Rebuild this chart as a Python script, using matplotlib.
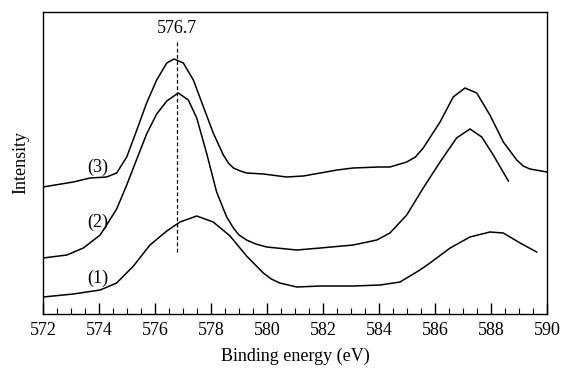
import numpy as np
import matplotlib.pyplot as plt

plt.rcParams['font.family'] = ['Liberation Serif', 'DejaVu Serif']

# curve (3)
e3 = [572.0, 573.08, 573.68, 574.27, 574.63, 574.99, 575.35, 575.70, 576.06, 576.42,
      576.68, 577.01, 577.37, 577.73, 578.08, 578.44, 578.62, 578.8, 579.05, 579.27,
      579.87, 580.7, 581.3, 581.9, 582.5, 583.08, 584.0, 584.39, 584.99, 585.3,
      585.58, 586.18, 586.65, 587.07, 587.49, 587.96, 588.44, 588.92, 589.15, 589.39,
      590.0]
i3 = [127, 132, 136, 137, 141, 157, 184, 211, 234, 251,
      255, 251, 234, 207, 181, 159, 151, 146, 143, 141,
      140, 137, 138, 141, 144, 146, 147, 147, 152, 157,
      166, 192, 217, 226, 221, 199, 172, 154, 148, 145,
      142]

# curve (2)
e2 = [572.0, 572.85, 573.44, 574.04, 574.27, 574.63, 574.99, 575.35, 575.70, 576.06,
      576.42, 576.83, 577.19, 577.49, 577.85, 578.2, 578.56, 578.8, 579.0, 579.27,
      579.6, 579.99, 581.06, 581.9, 583.08, 583.92, 584.39, 584.99, 585.58, 586.18,
      586.77, 587.25, 587.67, 588.08, 588.62]
i2 = [56, 59, 66, 79, 89, 105, 129, 155, 180, 200,
      213, 221, 214, 196, 160, 122, 97, 86, 79, 74,
      70, 67, 64, 66, 69, 74, 81, 99, 126, 152,
      176, 185, 177, 159, 133]

# curve (1)
e1 = [572.0, 573.08, 574.04, 574.63, 575.23, 575.82, 576.42, 576.89, 577.49, 578.08,
      578.68, 579.27, 579.87, 580.15, 580.46, 581.06, 581.9, 583.08, 584.04, 584.75,
      585.46, 585.82, 586.54, 587.25, 587.96, 588.44, 589.04, 589.63]
i1 = [17, 20, 24, 31, 48, 69, 83, 92, 98, 92,
      78, 58, 41, 35, 31, 27, 28, 28, 29, 32,
      44, 51, 66, 77, 82, 81, 71, 62]

peak_pos = 576.8
peak_text = "576.7"
labels = ["(1)", "(2)", "(3)"]
label_y = [36, 92, 147]

fig = plt.figure(figsize=(5.63, 3.71), dpi=100)
ax = fig.add_axes([0.0764, 0.1536, 0.8952, 0.8141])

for e, i in [(e1, i1), (e2, i2), (e3, i3)]:
    ax.plot(e, i, color='black', lw=1.1, solid_joinstyle='round')

ax.plot([peak_pos, peak_pos], [62, 272], color='black', lw=0.9, ls=(0, (3, 2)))
ax.text(peak_pos, 285, peak_text, ha='center', va='center', fontsize=13)

for lab, y in zip(labels, label_y):
    ax.text(573.96, y, lab, ha='center', va='center', fontsize=13)

ax.set_xlim(572, 590)
ax.set_ylim(0, 302)
ax.set_xticks(np.arange(572, 591, 2))
ax.set_xticks(np.arange(572, 590.1, 0.5), minor=True)
ax.set_yticks([])
ax.tick_params(axis='x', which='major', direction='in', length=8, width=1, labelsize=13, pad=6)
ax.tick_params(axis='x', which='minor', direction='in', length=4, width=0.8)
for s in ax.spines.values():
    s.set_linewidth(1.0)

ax.set_xlabel("Binding energy (eV)", fontsize=13, labelpad=6)
ax.set_ylabel("Intensity", fontsize=13, labelpad=10)

fig.savefig("out.png", dpi=100)
